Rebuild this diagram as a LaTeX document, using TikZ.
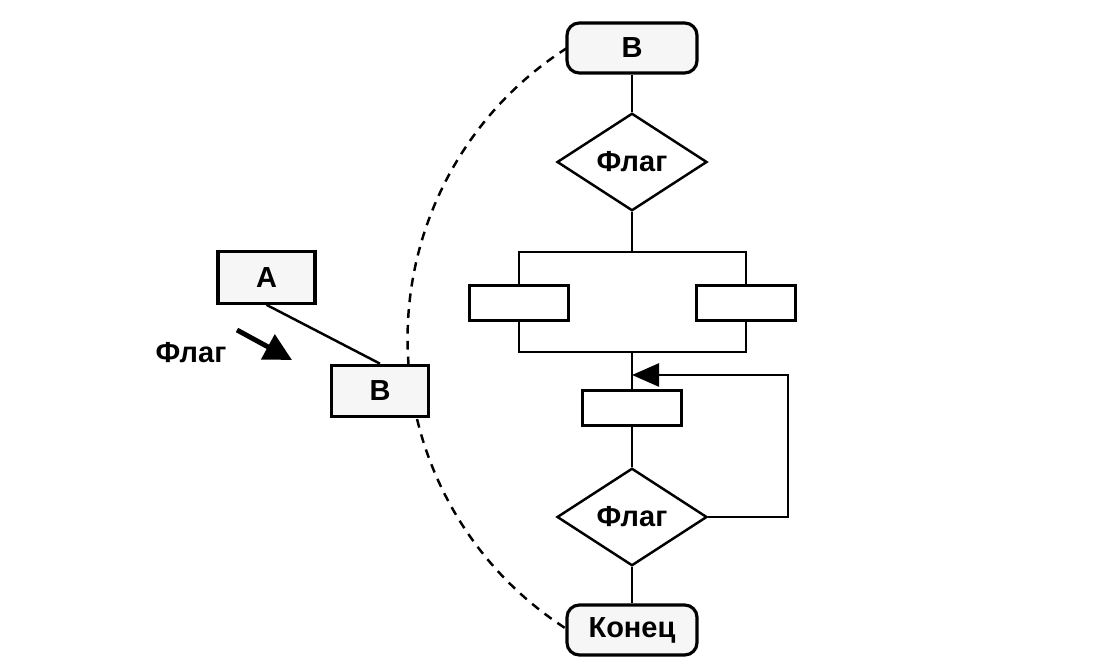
\documentclass[tikz,border=0pt]{standalone}
\usepackage{fontspec}
\setmainfont{Liberation Sans}
\usetikzlibrary{shapes.geometric,arrows.meta}
\begin{document}
\begin{tikzpicture}[
    every node/.style={font=\fontsize{16.5}{20}\selectfont\bfseries},
    term/.style={draw, line width=1.8pt, rounded corners=7pt, fill=gray!7,
                 minimum width=2.6cm, minimum height=1cm},
    blk/.style={draw, line width=1.8pt, fill=gray!7,
                minimum width=1.94cm, minimum height=1.03cm},
    opbox/.style={draw, line width=1.8pt, fill=white,
                  minimum width=1.97cm, minimum height=0.7cm},
    cond/.style={draw, line width=1.4pt, diamond, aspect=1.58, inner sep=0pt,
                 minimum width=3cm, minimum height=1.95cm},
    link/.style={line width=1.4pt}]
        \useasboundingbox (0,0) rectangle (22.34,-13.26);            %
        \fill [white]              (0,0) rectangle (22.34,-13.26);   %
        \draw [link, dashed, dash pattern=on 5pt off 4pt]
              (11.34,-0.96) arc [start angle=122.5, end angle=237.5, radius=6.892];
        \node (topB)  [term]  at (12.64,-0.96)  {В};                 %start
        \node (flag1) [cond]  at (12.64,-3.24)  {Флаг};              %
        \node (lbox)  [opbox] at (10.38,-6.06)  {};                  %branch 1
        \node (rbox)  [opbox] at (14.92,-6.06)  {};                  %branch 2
        \coordinate (split) at (12.64,-5.04);                        %
        \coordinate (join)  at (12.64,-7.04);                        %
        \node (mbox)  [opbox] at (12.64,-8.16)  {};                  %loop body
        \coordinate (back)  at (12.64,-7.5);                         %
        \node (flag2) [cond]  at (12.64,-10.34) {Флаг};              %
        \node (stop)  [term]  at (12.64,-12.6)  {Конец};             %end
        \draw [link] (topB) -- (flag1);                              %
        \draw [link] (flag1) -- (split);                             %
        \draw [link] (lbox.north) |- (split) -| (rbox.north);        %
        \draw [link] (lbox.south) |- (join) -| (rbox.south);         %
        \draw [link] (join) -- (mbox);                               %
        \draw [link] (mbox) -- (flag2);                              %
        \draw [link] (flag2) -- (stop);                              %
        \draw [link, -{Triangle[length=5.4mm,width=4.6mm]}]
              (flag2.east) -- (15.76,-10.34) |- (back);              %repeat
        \node (blkA)  [blk]   at (5.33,-5.55)   {А};                 %
        \node (blkB)  [blk]   at (7.6,-7.82)    {В};                 %
        \draw [link] (blkA.south) -- (blkB.north);                   %
        \coordinate (fa) at (4.74,-6.6);                             %
        \coordinate (fb) at (5.84,-7.2);                             %
        \draw [line width=2.8pt, -{Triangle[length=5.5mm,width=5.5mm]}] (fa) -- (fb);
        \node (flagL)         at (3.82,-7.06)   {Флаг};              %
       \end{tikzpicture}
\end{document}
